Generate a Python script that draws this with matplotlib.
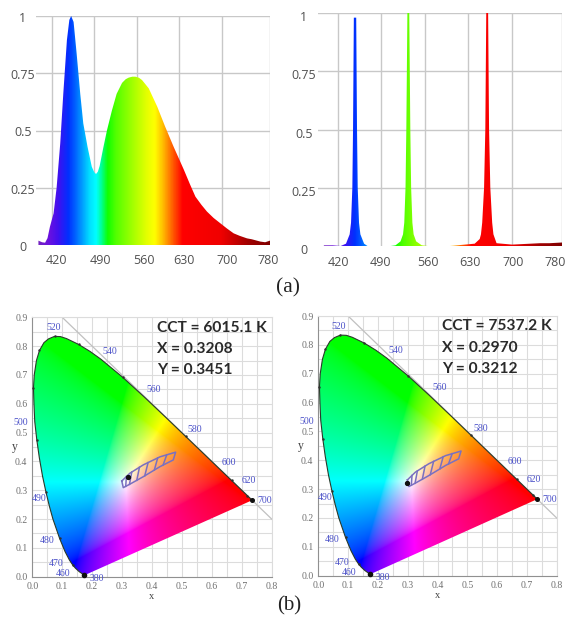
import numpy as np
from matplotlib import pyplot as plt
from matplotlib.colors import LinearSegmentedColormap
from matplotlib.transforms import ScaledTranslation

W, H = 565, 617
DPI = 100

# wavelength axis
wl_ticks = [420, 490, 560, 630, 700, 780]
int_ticks = [0, 0.25, 0.5, 0.75, 1]
int_labels = ['0', '0.25', '0.5', '0.75', '1']

# white LED spectrum
white_wl = [398, 404, 409, 413, 417, 423, 428, 434, 439, 445, 449, 452, 456, 461, 467, 472, 479, 486, 490, 493,
            496, 499, 505, 511, 519, 527, 536, 542, 547, 553, 558, 564, 569, 580, 594, 607, 621, 638, 648, 657, 667, 676,
            687, 698, 709, 720, 730, 742, 750, 757, 764, 772, 780]
white_val = [0.019, 0.012, 0.01, 0.03, 0.08, 0.138, 0.25, 0.444, 0.66, 0.895, 0.983, 1.0, 0.974, 0.837, 0.66, 0.531, 0.429, 0.342, 0.318, 0.31,
             0.32, 0.345, 0.425, 0.50, 0.585, 0.66, 0.708, 0.724, 0.731, 0.735, 0.735, 0.73, 0.72, 0.684, 0.604, 0.517, 0.429, 0.328, 0.265, 0.211, 0.175, 0.146,
             0.118, 0.095, 0.072, 0.051, 0.04, 0.029, 0.025, 0.02, 0.015, 0.012, 0.019]

# RGB laser spectrum
rgb_wl = [398, 412, 425, 433.5, 439.4, 441.6, 443.7, 444.8, 446.1, 449.9, 451.2, 452.3, 454.4, 456.6, 462.5, 468,
          505, 513, 521, 525, 527, 529, 530.3, 532, 535, 536.7, 538, 540, 542, 546, 555, 565,
          600, 612, 640, 648, 650, 652, 655, 657, 658.5, 661.5, 663, 665, 668, 670, 675, 700, 745, 760, 780]
rgb_val = [0.003, 0.003, 0.0, 0.01, 0.05, 0.1, 0.25, 0.5, 0.98, 0.98, 0.5, 0.25, 0.1, 0.05, 0.01, 0.0,
           0.0, 0.003, 0.02, 0.05, 0.1, 0.25, 0.5, 1.0, 1.0, 0.5, 0.25, 0.1, 0.05, 0.02, 0.003, 0.0,
           0.0, 0.003, 0.01, 0.03, 0.05, 0.1, 0.25, 0.5, 1.0, 1.0, 0.5, 0.25, 0.1, 0.05, 0.012, 0.006, 0.012, 0.012, 0.015]

# rainbow stops for the filled spectra
stop_wl = [388, 415, 430, 447, 458, 470, 482, 493, 502, 512, 525, 555, 578, 590, 603, 622, 636, 700, 745, 780]
stop_col = ['#7a2fb0', '#6a10e0', '#4010f0', '#0030ff', '#0060ff', '#00a0ff', '#00e0ff', '#00ffff', '#00ff90', '#10ff00',
            '#50ff00', '#a8ff00', '#e8ff00', '#ffff00', '#ffc000', '#ff5000', '#ff0000', '#f00000', '#a00000', '#800000']

# label offsets in pixels against the grid lines
shift_left = [5, 6, 7, 5, 6, -2]
shift_right = [1, -1, 3, 1, 1, -7]

# CIE 1931 spectral locus
locus_x = [0.1741, 0.1566, 0.1440, 0.1355, 0.1241, 0.1096, 0.0913, 0.0687, 0.0570, 0.0454, 0.0340, 0.0235, 0.0150, 0.0082,
           0.0055, 0.0039, 0.0065, 0.0139, 0.024, 0.0389, 0.054, 0.0743, 0.094, 0.1142, 0.1547, 0.1929, 0.2296, 0.3016,
           0.3731, 0.4441, 0.5125, 0.5752, 0.6270, 0.6658, 0.6915, 0.7079, 0.7190, 0.7260, 0.7347]
locus_y = [0.0050, 0.0177, 0.0297, 0.0399, 0.0578, 0.0868, 0.1327, 0.2007, 0.245, 0.2950, 0.35, 0.4127, 0.475, 0.5384,
           0.60, 0.6548, 0.70, 0.7502, 0.785, 0.8120, 0.825, 0.8338, 0.833, 0.8262, 0.8059, 0.7816, 0.7543, 0.6923,
           0.6245, 0.5547, 0.4866, 0.4242, 0.3725, 0.3340, 0.3083, 0.2920, 0.2809, 0.2740, 0.2653]

nm_labels = ['520', '540', '560', '580', '600', '620', '700', '500', '490', '480', '470', '460', '380']
nm_x = [0.07, 0.26, 0.407, 0.544, 0.658, 0.722, 0.778, -0.039, 0.023, 0.048, 0.081, 0.104, 0.215]
nm_y = [0.864, 0.781, 0.651, 0.511, 0.396, 0.333, 0.263, 0.536, 0.27, 0.124, 0.046, 0.01, -0.006]

# white point bins
bin_up_x = [0.299, 0.326, 0.371, 0.427, 0.479]
bin_up_y = [0.332, 0.359, 0.388, 0.416, 0.432]
bin_lo_x = [0.304, 0.326, 0.371, 0.427, 0.471]
bin_lo_y = [0.309, 0.321, 0.347, 0.382, 0.405]

cct_text = ['CCT = 6015.1 K\nX = 0.3208\nY = 0.3451', 'CCT = 7537.2 K\nX = 0.2970\nY = 0.3212']
point_x = [0.3208, 0.2970]
point_y = [0.3451, 0.3212]

plt.rcParams['font.family'] = ['Open Sans', 'DejaVu Sans']
fig = plt.figure(figsize=(W / DPI, H / DPI), dpi=DPI)


def make_ax(left, right, top, bottom):
    # box given in pixels of the picture
    return fig.add_axes([left / W, 1 - bottom / H, (right - left) / W, (bottom - top) / H])


spec_cmap = LinearSegmentedColormap.from_list(
    'spec', [((w - 388) / (780 - 388), c) for w, c in zip(stop_wl, stop_col)])


def spectrum(ax, wl, val, xmin, shifts, lab_x, lab_dy):
    ax.set_xlim(xmin, 780)
    ax.set_ylim(0, 1)
    ax.set_xticks(wl_ticks, [str(t) for t in wl_ticks])
    ax.set_yticks(int_ticks, int_labels)
    ax.grid(True, color='#c8c8c8', lw=1.0)
    ax.yaxis.get_gridlines()[0].set_visible(False)
    ax.set_axisbelow(True)
    for s in ax.spines.values():
        s.set_visible(False)
    ax.tick_params(length=0, labelsize=9, labelcolor='#505050', pad=6)
    for lab, s in zip(ax.get_xticklabels(), shifts):
        lab.set_transform(lab.get_transform() + ScaledTranslation(s / DPI, -lab_dy * 0.5 / DPI, fig.dpi_scale_trans))
    # y labels are centred on one column, left of the axis
    for lab in ax.get_yticklabels():
        lab.set_ha('center')
        lab.set_transform(lab.get_transform() + ScaledTranslation(lab_x / DPI, -lab_dy / DPI, fig.dpi_scale_trans))
    poly = ax.fill_between(wl, val, 0, color='none', lw=0)
    grad = np.linspace(0, 1, 600)[None, :]
    im = ax.imshow(grad, cmap=spec_cmap, extent=(388, 780, 0, 1), aspect='auto', zorder=2)
    im.set_clip_path(poly.get_paths()[0], transform=ax.transData)


ax1 = make_ax(36, 270, 16, 245)
spectrum(ax1, white_wl, white_val, 394, shift_left, -5, 1)
ax2 = make_ax(318, 562, 13, 246)
spectrum(ax2, rgb_wl, rgb_val, 388.6, shift_right, -6, 3)


def chroma_image():
    xs, ys = np.meshgrid(np.linspace(0, 0.8, 500), np.linspace(0, 0.9, 560))
    ys = np.maximum(ys, 1e-4)
    X, Z = xs / ys, (1 - xs - ys) / ys
    r = 3.2406 * X - 1.5372 - 0.4986 * Z
    g = -0.9689 * X + 1.8758 + 0.0415 * Z
    b = 0.0557 * X - 0.2040 + 1.0570 * Z
    rgb = np.clip(np.dstack([r, g, b]), 0, None)
    rgb = rgb / np.maximum(rgb.max(axis=2, keepdims=True), 1e-6)
    return rgb ** (1 / 1.7)


def cie(ax, text, px, py):
    ax.set_xlim(0, 0.8)
    ax.set_ylim(0, 0.9)
    ax.set_xticks(np.arange(0, 0.81, 0.1))
    ax.set_yticks(np.arange(0, 0.91, 0.1))
    ax.set_xticks(np.arange(0, 0.81, 0.05), minor=True)
    ax.set_yticks(np.arange(0, 0.91, 0.05), minor=True)
    ax.xaxis.set_major_formatter('{x:.1f}')
    ax.yaxis.set_major_formatter('{x:.1f}')
    ax.grid(True, which='both', color='#dcdcdc', lw=0.8)
    ax.set_axisbelow(True)
    ax.tick_params(which='both', length=0)
    ax.tick_params(labelsize=7, labelcolor='#707070', pad=3.5, labelfontfamily='Liberation Serif')
    ax.set_xlabel('x', fontsize=7.5, family='Liberation Serif', color='#444444', labelpad=1)
    ax.set_ylabel('y', fontsize=8.5, family='Liberation Serif', color='#444444', rotation=0, va='center')
    ax.yaxis.set_label_coords(-0.075, 0.5)
    for side in ('top', 'right'):
        ax.spines[side].set_color('#dcdcdc')
    for side in ('left', 'bottom'):
        ax.spines[side].set_color('#909090')
    ax.plot([0.1, 0.8], [0.9, 0.2], color='#c0c0c0', lw=0.9, zorder=1)

    closed_x = locus_x + locus_x[:1]
    closed_y = locus_y + locus_y[:1]
    poly = ax.fill(closed_x, closed_y, color='none', lw=0)[0]
    im = ax.imshow(chroma_image(), extent=(0, 0.8, 0, 0.9), origin='lower', aspect='auto', zorder=2, interpolation='bilinear')
    im.set_clip_path(poly)
    ax.plot(locus_x, locus_y, color='#2a3a2a', lw=0.8, zorder=3)
    ax.plot(locus_x[::3], locus_y[::3], ls='none', marker='.', ms=1.5, color='#303030', zorder=3)
    ax.plot(locus_x[-1:], locus_y[-1:], ls='none', marker='o', ms=2.6, color='#101010', zorder=4, clip_on=False)
    ax.plot(locus_x[:1], locus_y[:1], ls='none', marker='o', ms=3, color='#101010', zorder=4, clip_on=False)

    for lab, x, y in zip(nm_labels, nm_x, nm_y):
        ax.text(x, y, lab, color='#4a50c8', fontsize=7, family='Liberation Serif', ha='center', va='center', zorder=5)

    # hatched bins
    ax.plot(bin_up_x + bin_lo_x[::-1] + bin_up_x[:1], bin_up_y + bin_lo_y[::-1] + bin_up_y[:1],
            color='#7a70c0', lw=1.1, zorder=5)
    pos = np.linspace(0, 1, 5)
    for c in np.linspace(0, 1, 8)[1:-1]:
        ux = np.interp(c, pos, bin_up_x)
        uy = np.interp(c, pos, bin_up_y)
        lx = np.interp(c - 0.05, pos, bin_lo_x)
        ly = np.interp(c - 0.05, pos, bin_lo_y)
        ax.plot([ux, lx], [uy, ly], color='#7a70c0', lw=1.1, zorder=5)
    ax.plot([px], [py], ls='none', marker='o', ms=2.8, color='#101010', zorder=6)
    ax.text(0.416, 0.888, text, fontsize=11.2, fontweight='bold', color='#2a2a2a', family='Lato',
            ha='left', va='top', linespacing=1.67, zorder=6)


ax3 = make_ax(32.3, 271.7, 317.3, 576.7)
cie(ax3, cct_text[0], point_x[0], point_y[0])
ax4 = make_ax(318.3, 556.7, 316, 575.7)
cie(ax4, cct_text[1], point_x[1], point_y[1])

fig.text(288 / W, 1 - 288 / H, '(a)', family='Liberation Serif', fontsize=15.5, ha='center', va='center', color='#222222')
fig.text(289 / W, 1 - 606 / H, '(b)', family='Liberation Serif', fontsize=15, ha='center', va='center', color='#222222')

fig.savefig('out.png', dpi=DPI)
